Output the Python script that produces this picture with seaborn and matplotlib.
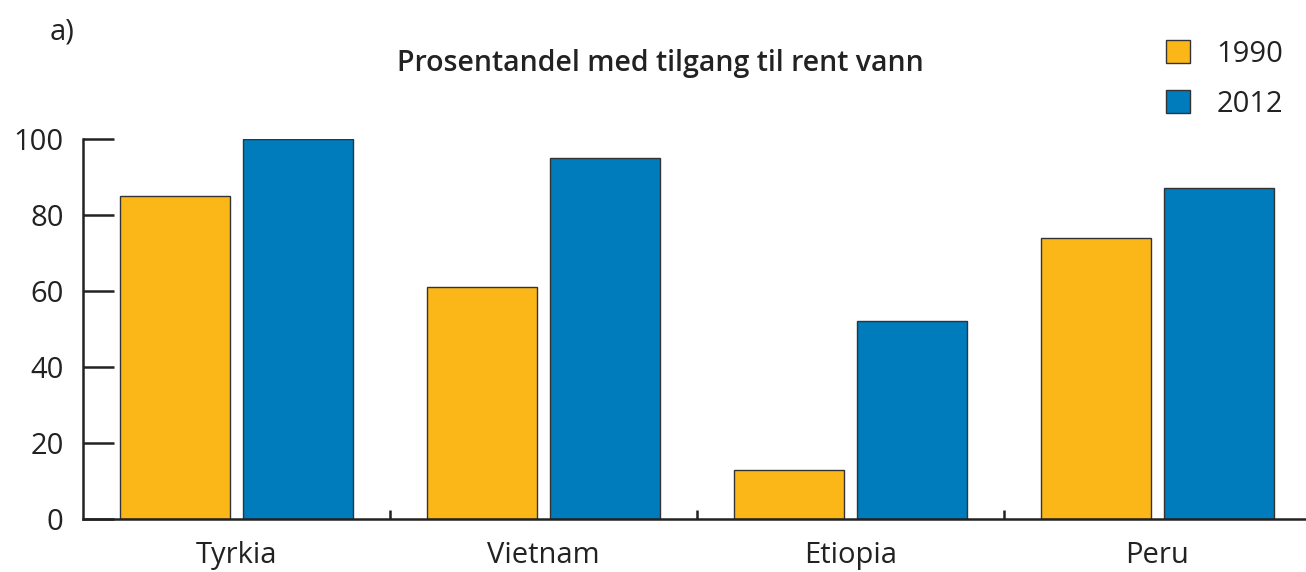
import pandas as pd
import seaborn as sns
import matplotlib.pyplot as plt
from matplotlib.ticker import FixedLocator

countries = ['Tyrkia', 'Vietnam', 'Etiopia', 'Peru']
years = ['1990', '2012']
values_1990 = [85, 61, 13, 74]
values_2012 = [100, 95, 52, 87]
y_ticks = [0, 20, 40, 60, 80, 100]

df = pd.DataFrame({
    'country': countries * 2,
    'year': [years[0]] * 4 + [years[1]] * 4,
    'value': values_1990 + values_2012,
})

sns.set_theme(style='white')
plt.rcParams['font.family'] = ['Open Sans', 'DejaVu Sans']

fig = plt.figure(figsize=(13.06, 5.72), dpi=100)
ax = fig.add_axes([83 / 1306, 53 / 572, 1228 / 1306, 380 / 572])

palette = {'1990': '#FBB718', '2012': '#007BBB'}
sns.barplot(data=df, x='country', y='value', hue='year', hue_order=years,
            order=countries, palette=palette, width=0.8, gap=0.1,
            edgecolor='#333333', linewidth=1.0, saturation=1, ax=ax)

ax.set_xlim(-0.5, 3.5)
ax.set_ylim(0, 100)
ax.set_xlabel('')
ax.set_ylabel('')

for s in ['top', 'right']:
    ax.spines[s].set_visible(False)
for s in ['left', 'bottom']:
    ax.spines[s].set_color('#222222')
    ax.spines[s].set_linewidth(1.8)

ax.set_yticks(y_ticks)
ax.tick_params(axis='y', direction='in', length=22, width=1.8, color='#222222',
               labelsize=21, pad=14, labelcolor='#222222', left=True)
ax.tick_params(axis='x', which='major', length=0, labelsize=21, pad=16,
               labelcolor='#222222')
ax.xaxis.set_minor_locator(FixedLocator([0.5, 1.5, 2.5]))
ax.tick_params(axis='x', which='minor', direction='in', length=6.5, width=1.8,
               color='#222222', bottom=True)

handles, labels = ax.get_legend_handles_labels()
ax.legend(handles, labels, loc='upper left', bbox_to_anchor=(1154 / 1306, 1 - 28 / 572),
          bbox_transform=fig.transFigure, frameon=False, fontsize=21,
          handlelength=0.83, handleheight=0.83, labelspacing=0.72,
          handletextpad=0.9, borderaxespad=0, labelcolor='#222222')

fig.text(660 / 1306, 1 - 63 / 572, 'Prosentandel med tilgang til rent vann',
         ha='center', va='center', fontsize=20.5, fontweight='semibold', color='#222222')
fig.text(50 / 1306, 1 - 32 / 572, 'a)', ha='left', va='center', fontsize=21,
         color='#222222')

fig.savefig('out.png', dpi=100)
